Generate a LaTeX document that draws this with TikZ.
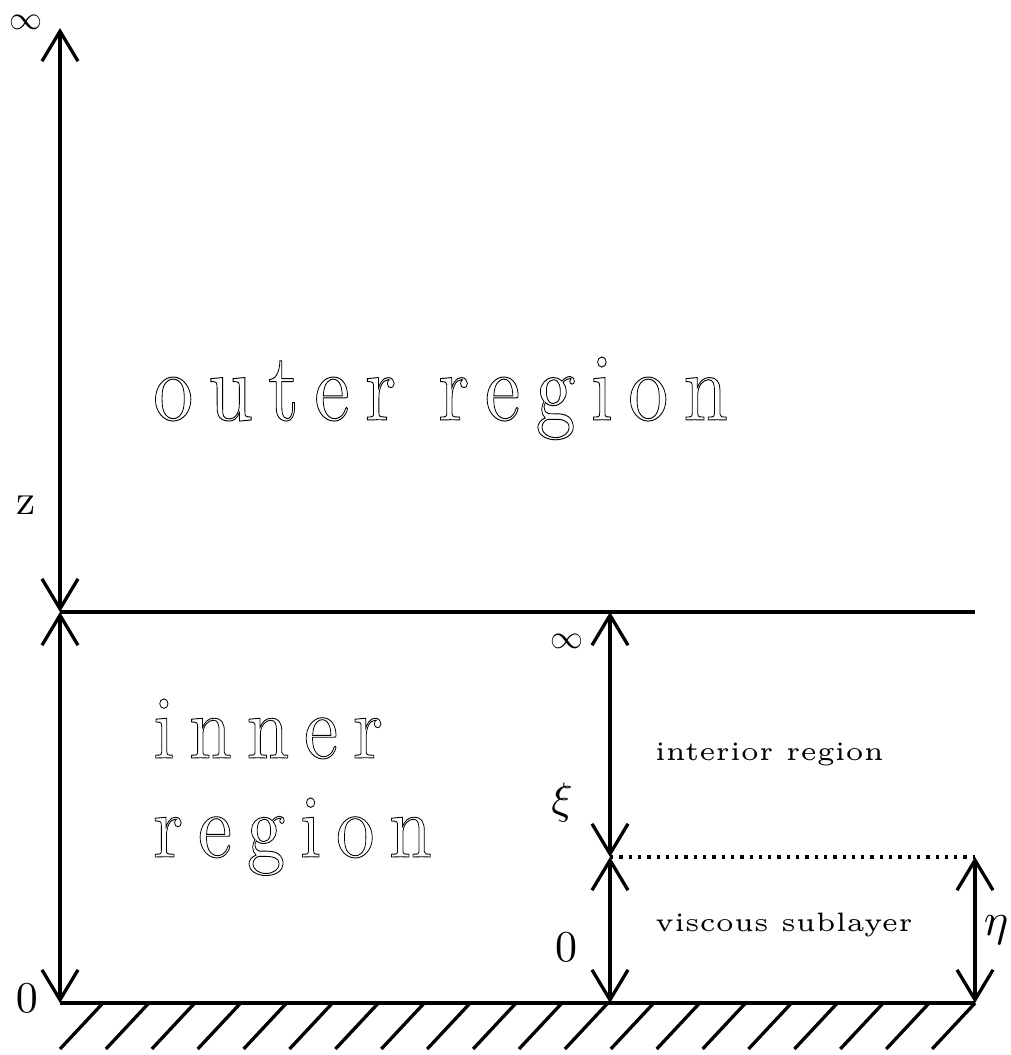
\documentclass[tikz,border=0pt]{standalone}
\usetikzlibrary{arrows.meta}
\usepackage{graphicx}
\tikzset{
  axis/.style={line width=3.3pt, {Straight Barb[length=30pt,width=36pt]}-{Straight Barb[length=30pt,width=36pt]}},
  plain/.style={line width=3.3pt},
  hatch/.style={line width=3.3pt},
  dotline/.style={line width=3.3pt, dash pattern=on 3.3pt off 6pt},
  lab/.style={inner sep=0pt},
  big/.style={inner sep=0pt, anchor=base west},
  small/.style={inner sep=0pt, anchor=base west},
}
\def\lsp#1{\lspA#1\relax}
\def\lspA#1{\ifx\relax#1\else#1\kern1.9pt\relax\expandafter\lspA\fi}
\newcommand{\outlinetext}[1]{\special{pdf:literal direct 1 Tr 0.1 w}#1\special{pdf:literal direct 0 Tr}}
\newcommand{\outl}[3]{\scalebox{#1}[#2]{\fontsize{10}{12}\selectfont\outlinetext{#3}}}
\newcommand{\smtxt}[1]{\scalebox{5.33}{\fontsize{5}{6}\selectfont #1}}
\newcommand{\lbl}[2]{\scalebox{#1}{\fontsize{10}{12}\selectfont #2}}
\begin{document}
\begin{tikzpicture}[x=1pt,y=-1pt]
\useasboundingbox (0,0) rectangle (1010,1055);
% coordinates
\coordinate (Ltop) at (60,28);
\coordinate (Lmid) at (60,612);
\coordinate (Lbot) at (60,1003);
\coordinate (Rline) at (975,612);
\coordinate (Mtop) at (610,612);
\coordinate (Mmid) at (610,857);
\coordinate (Mbot) at (610,1003);
\coordinate (Rtop) at (975,857);
\coordinate (Rbot) at (975,1003);
% lines
\draw[plain] (Lmid) -- (Rline);
\draw[plain] (Lbot) -- (Rbot);
\draw[dotline] (Mmid) -- (Rtop);
\draw[axis] (Lmid) -- (Ltop);
\draw[axis] (Lmid) -- (Lbot);
\draw[axis] (Mtop) -- (Mmid);
\draw[axis] (Mmid) -- (Mbot);
\draw[axis] (Rtop) -- (Rbot);
% hatching
\foreach \i in {0,...,19} {
  \draw[hatch] ({103+\i*45.9},1003) -- ++(-43,46);
}
% labels
\node[lab] (inftyL) at (26,22) {\lbl{3.3}{$\infty$}};
\node[lab] (zL) at (26,505) {\lbl{4.3}{z}};
\node[lab] (zeroL) at (27,998) {\lbl{4.4}{$0$}};
\node[lab] (inftyM) at (567,641) {\lbl{3.3}{$\infty$}};
\node[lab] (xiM) at (562,802) {\lbl{4.4}{$\xi$}};
\node[lab] (zeroM) at (566,947) {\lbl{4.4}{$0$}};
\node[lab] (etaR) at (996,930) {\lbl{4.6}{$\eta$}};
% region texts
\node[big] (outer) at (153,420) {\outl{8.0}{9.6}{\lsp{outer} \lsp{region}}};
\node[big] (inner1) at (153,758) {\outl{7.7}{9.0}{\lsp{inner}}};
\node[big] (inner2) at (153,857) {\outl{7.7}{9.0}{\lsp{region}}};
\node[small] (interior) at (655,760) {\smtxt{interior region}};
\node[small] (viscous) at (655,931) {\smtxt{viscous sublayer}};
\end{tikzpicture}
\end{document}
